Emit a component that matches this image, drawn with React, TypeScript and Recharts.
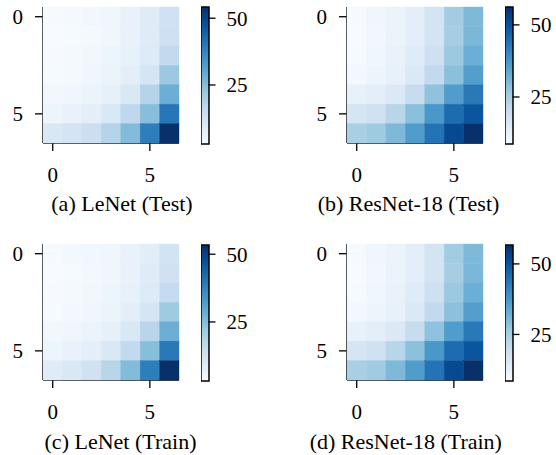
import React from "react";
import { ScatterChart, Scatter, XAxis, YAxis, BarChart, Bar } from "recharts";

// matplotlib "Blues"
const BLUES = ["#f7fbff", "#deebf7", "#c6dbef", "#9ecae1", "#6baed6", "#4292c6", "#2171b5", "#08519c", "#08306b"];

// rows top -> bottom, cols left -> right
const lenetTest = [
  [3.4, 3.9, 4.4, 5.0, 6.5, 9.1, 13.2],
  [2.9, 3.4, 3.9, 5.0, 6.5, 9.1, 13.7],
  [3.2, 3.7, 4.4, 5.5, 7.0, 9.6, 16.2],
  [3.4, 3.9, 5.0, 6.0, 8.0, 11.6, 22.4],
  [4.4, 5.0, 6.0, 7.5, 10.6, 18.3, 28.6],
  [5.5, 6.5, 8.0, 10.6, 16.8, 25.0, 40.3],
  [10.6, 12.1, 14.2, 18.3, 25.5, 38.8, 54.2],
];
const resnetTest = [
  [9.2, 10.6, 11.6, 13.5, 17.3, 25.8, 30.1],
  [8.7, 10.1, 11.6, 13.5, 17.3, 25.3, 30.6],
  [9.2, 10.6, 12.0, 14.4, 18.7, 26.8, 32.5],
  [9.7, 11.1, 12.5, 15.4, 21.1, 28.7, 35.8],
  [12.5, 13.5, 15.4, 20.1, 28.2, 36.3, 42.9],
  [16.8, 18.2, 22.5, 28.7, 37.2, 45.3, 49.6],
  [24.9, 26.3, 30.1, 36.3, 43.9, 51.5, 56.2],
];
const lenetTrain = [
  [3.7, 4.2, 4.7, 5.2, 6.7, 8.7, 12.7],
  [3.2, 3.7, 4.2, 5.2, 6.7, 9.2, 13.2],
  [3.5, 4.0, 4.7, 5.7, 7.2, 9.7, 15.8],
  [3.7, 4.2, 5.2, 6.2, 8.2, 11.7, 21.8],
  [4.7, 5.2, 6.2, 7.7, 10.7, 17.8, 28.3],
  [5.7, 6.7, 8.2, 10.7, 16.3, 24.8, 39.3],
  [9.2, 10.7, 13.2, 17.8, 25.3, 38.3, 53.4],
];
const resnetTrain = [
  [9.0, 10.4, 11.4, 13.3, 17.2, 25.9, 30.2],
  [8.5, 9.9, 11.4, 13.3, 17.2, 25.4, 30.7],
  [9.0, 10.4, 11.9, 14.3, 18.6, 26.8, 32.6],
  [9.5, 10.9, 12.4, 15.2, 21.0, 28.7, 36.0],
  [12.4, 13.3, 15.2, 20.1, 28.3, 36.5, 43.2],
  [16.7, 18.1, 22.5, 28.7, 37.4, 45.6, 50.0],
  [24.9, 26.3, 30.2, 36.5, 44.2, 51.9, 56.7],
];

const axisTicks = [0, 5];
const barTicks = [25, 50];
const captions = ["(a) LeNet (Test)", "(b) ResNet-18 (Test)", "(c) LeNet (Train)", "(d) ResNet-18 (Train)"];

const FONT = "'Liberation Serif', 'Times New Roman', serif";
const PLOT = 136;
const CB_W = 7.5;
const CB_PAD = 14;

const hexToRgb = (h: string) => [1, 3, 5].map((i) => parseInt(h.slice(i, i + 2), 16));

function blues(t: number) {
  const s = Math.max(0, Math.min(1, t)) * (BLUES.length - 1);
  const i = Math.min(Math.floor(s), BLUES.length - 2);
  const f = s - i;
  const a = hexToRgb(BLUES[i]);
  const b = hexToRgb(BLUES[i + 1]);
  const c = a.map((v, k) => Math.round(v + (b[k] - v) * f));
  return `rgb(${c[0]},${c[1]},${c[2]})`;
}

const tickStyle = { fill: "#000", fontSize: 21, fontFamily: FONT };

function Heatmap({ grid, left, top }: { grid: number[][]; left: number; top: number }) {
  const flat = grid.flatMap((row, r) => row.map((v, c) => ({ x: c, y: r, v })));
  const vmin = Math.min(...flat.map((d) => d.v));
  const vmax = Math.max(...flat.map((d) => d.v));
  const cell = PLOT / 7;
  return (
    <div style={{ position: "absolute", left: left - 43, top: top - 7 }}>
      <ScatterChart width={43 + PLOT + 4} height={7 + PLOT + 50} margin={{ top: 7, right: 4, bottom: 0, left: 0 }}>
        <Scatter
          data={flat}
          isAnimationActive={false}
          shape={(p: any) => (
            <rect
              x={p.cx - cell / 2}
              y={p.cy - cell / 2}
              width={cell}
              height={cell}
              fill={blues((p.payload.v - vmin) / (vmax - vmin))}
              stroke={blues((p.payload.v - vmin) / (vmax - vmin))}
              strokeWidth={0.4}
            />
          )}
        />
        <XAxis
          type="number"
          dataKey="x"
          domain={[-0.5, 6.5]}
          ticks={axisTicks}
          interval={0}
          height={50}
          tick={tickStyle}
          tickSize={8}
          tickMargin={16}
          axisLine={{ stroke: "#000", strokeWidth: 1.6 }}
          tickLine={{ stroke: "#000", strokeWidth: 1.3 }}
        />
        <YAxis
          type="number"
          dataKey="y"
          domain={[-0.5, 6.5]}
          reversed
          ticks={axisTicks}
          interval={0}
          width={43}
          tick={tickStyle}
          tickSize={8}
          tickMargin={12}
          axisLine={{ stroke: "#000", strokeWidth: 1.6 }}
          tickLine={{ stroke: "#000", strokeWidth: 1.3 }}
        />
      </ScatterChart>
    </div>
  );
}

function Colorbar({ grid, left, top, height, id }: { grid: number[][]; left: number; top: number; height: number; id: string }) {
  const vals = grid.flat();
  const vmin = Math.min(...vals);
  const vmax = Math.max(...vals);
  const data = [{ name: "cb", range: [vmin, vmax] }];
  return (
    <div style={{ position: "absolute", left, top: top - CB_PAD }}>
      <BarChart
        width={CB_W + 60}
        height={height + 2 * CB_PAD}
        data={data}
        barCategoryGap={0}
        margin={{ top: CB_PAD, right: 0, bottom: CB_PAD, left: 0 }}
      >
        <defs>
          <linearGradient id={id} x1="0" y1="1" x2="0" y2="0">
            {BLUES.map((c, i) => (
              <stop key={i} offset={i / (BLUES.length - 1)} stopColor={c} />
            ))}
          </linearGradient>
        </defs>
        <XAxis dataKey="name" hide height={0} />
        <YAxis
          orientation="right"
          type="number"
          domain={[vmin, vmax]}
          ticks={barTicks}
          interval={0}
          width={60}
          axisLine={false}
          tick={tickStyle}
          tickSize={7}
          tickMargin={11}
          tickLine={{ stroke: "#000", strokeWidth: 1.3 }}
        />
        <Bar dataKey="range" fill={`url(#${id})`} stroke="#000" strokeWidth={1.5} isAnimationActive={false} />
      </BarChart>
    </div>
  );
}

export default function App() {
  return (
    <div style={{ position: "absolute", left: 0, top: 0, width: 556, height: 455, background: "#fff" }}>
      <Heatmap grid={lenetTest} left={43} top={7} />
      <Colorbar grid={lenetTest} left={201} top={7} height={137} id="cbA" />
      <Heatmap grid={resnetTest} left={346.5} top={7} />
      <Colorbar grid={resnetTest} left={505} top={7} height={137} id="cbB" />
      <Heatmap grid={lenetTrain} left={43} top={244} />
      <Colorbar grid={lenetTrain} left={201} top={244.5} height={136} id="cbC" />
      <Heatmap grid={resnetTrain} left={346.5} top={244} />
      <Colorbar grid={resnetTrain} left={505} top={244.5} height={136} id="cbD" />
      <svg width={556} height={455} style={{ position: "absolute", left: 0, top: 0, pointerEvents: "none" }}>
        <text x={122} y={211} textAnchor="middle" fontSize={22} fontFamily={FONT} fill="#000">{captions[0]}</text>
        <text x={408.5} y={211} textAnchor="middle" fontSize={22} fontFamily={FONT} fill="#000">{captions[1]}</text>
        <text x={120.5} y={449} textAnchor="middle" fontSize={22} fontFamily={FONT} fill="#000">{captions[2]}</text>
        <text x={405.8} y={449} textAnchor="middle" fontSize={22} fontFamily={FONT} fill="#000">{captions[3]}</text>
      </svg>
    </div>
  );
}
